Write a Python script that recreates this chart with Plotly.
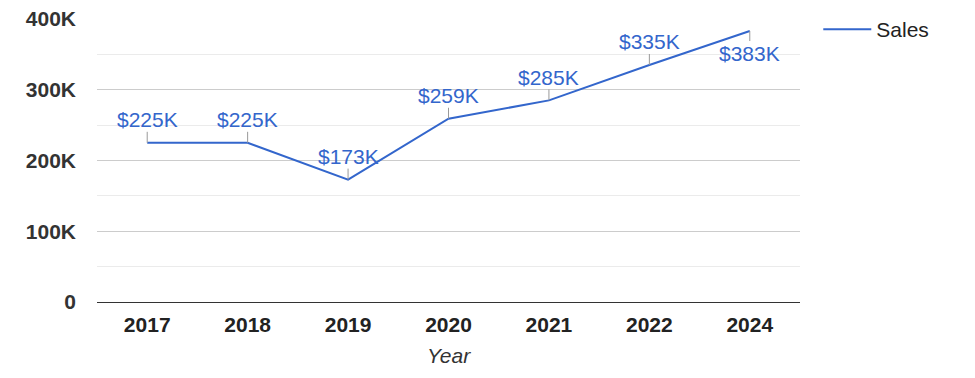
import plotly.graph_objects as go

years = ["2017", "2018", "2019", "2020", "2021", "2022", "2024"]
sales_k = [225, 225, 173, 259, 285, 335, 383]
label_below = [False, False, False, False, False, False, True]
y_ticks = [0, 100000, 200000, 300000, 400000]
y_ticktext = ["0", "100K", "200K", "300K", "400K"]

BLUE = "#3366cc"
FONT = "Liberation Sans, Arial, sans-serif"
FS = 21

sales = [v * 1000 for v in sales_k]

fig = go.Figure()
fig.add_trace(go.Scatter(
    x=years, y=sales, mode="lines", name="Sales",
    line=dict(color=BLUE, width=2),
))

for i, (v, vk, below) in enumerate(zip(sales, sales_k, label_below)):
    fig.add_annotation(
        x=i, y=v, xref="x", yref="y",
        text=f"${vk}K", showarrow=True, arrowhead=0, arrowwidth=1,
        arrowcolor="#999999", ax=0, ay=(22 if below else -23),
        font=dict(family=FONT, size=FS, color=BLUE),
        borderpad=0,
    )

fig.add_annotation(
    x=0.5, y=-0.19, xref="paper", yref="paper", yanchor="middle",
    text="<i>Year</i>", showarrow=False,
    font=dict(family=FONT, size=FS, color="#333333"),
)

fig.update_layout(
    width=975, height=378,
    margin=dict(l=97, r=175, t=19, b=76, autoexpand=False),
    paper_bgcolor="white", plot_bgcolor="white",
    font=dict(family=FONT, size=FS, color="#222222"),
    showlegend=True,
    legend=dict(x=1.026, y=1.035, xanchor="left", yanchor="top",
                font=dict(family=FONT, size=FS, color="#222222"),
                bgcolor="rgba(0,0,0,0)", itemwidth=48),
    xaxis=dict(
        type="category", showgrid=False, zeroline=False,
        showline=False, ticks="", ticklabelstandoff=8,
        tickfont=dict(family=FONT, size=FS, color="#222222", weight="bold"),
        range=[-0.5, 6.5], automargin=False,
    ),
    yaxis=dict(
        range=[0, 400000], tickvals=y_ticks, ticktext=y_ticktext,
        showgrid=True, gridcolor="#cccccc", gridwidth=1,
        minor=dict(dtick=50000, showgrid=True, gridcolor="#ebebeb", gridwidth=1),
        zeroline=True, zerolinecolor="#333333", zerolinewidth=1,
        showline=False, ticks="", ticklabelstandoff=20, automargin=False,
        tickfont=dict(family=FONT, size=FS, color="#333333", weight="bold"),
    ),
)

fig.write_html("out.html", config={"displayModeBar": False},
               post_script="document.body.style.margin='0px';")
